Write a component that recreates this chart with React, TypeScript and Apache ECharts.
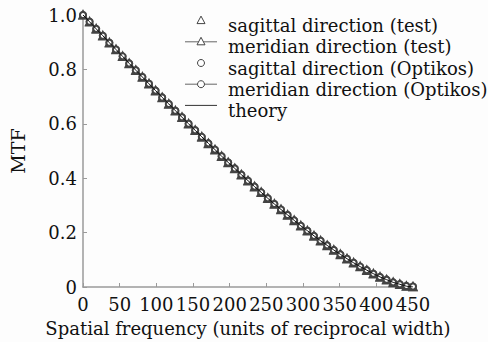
import React, { useEffect, useRef } from "react";
import * as echarts from "echarts";

const FREQ = [0, 9, 18, 27, 36, 45, 54, 63, 72, 81, 90, 99, 108, 117, 126, 135, 144, 153, 162, 171, 180, 189, 198, 207, 216, 225, 234, 243, 252, 261, 270, 279, 288, 297, 306, 315, 324, 333, 342, 351, 360, 369, 378, 387, 396, 405, 414, 423, 432, 441, 450];
const THEORY = [1.0, 0.975, 0.949, 0.924, 0.898, 0.873, 0.848, 0.822, 0.797, 0.772, 0.747, 0.722, 0.697, 0.673, 0.648, 0.624, 0.6, 0.576, 0.552, 0.528, 0.505, 0.481, 0.458, 0.436, 0.413, 0.391, 0.369, 0.348, 0.326, 0.305, 0.285, 0.265, 0.245, 0.225, 0.207, 0.188, 0.17, 0.153, 0.136, 0.12, 0.104, 0.089, 0.075, 0.062, 0.049, 0.037, 0.027, 0.017, 0.01, 0.003, 0.0];
const SAG_TEST = [1.0, 0.976, 0.95, 0.925, 0.899, 0.874, 0.849, 0.823, 0.798, 0.773, 0.748, 0.723, 0.698, 0.674, 0.649, 0.625, 0.601, 0.577, 0.553, 0.529, 0.506, 0.482, 0.459, 0.437, 0.414, 0.392, 0.37, 0.349, 0.327, 0.306, 0.286, 0.266, 0.246, 0.226, 0.208, 0.189, 0.171, 0.154, 0.137, 0.121, 0.105, 0.09, 0.076, 0.063, 0.05, 0.038, 0.028, 0.018, 0.011, 0.004, 0.001];
const MER_TEST = [1.0, 0.974, 0.948, 0.923, 0.897, 0.872, 0.847, 0.821, 0.796, 0.771, 0.746, 0.721, 0.696, 0.672, 0.647, 0.623, 0.599, 0.575, 0.551, 0.527, 0.504, 0.48, 0.457, 0.435, 0.412, 0.39, 0.368, 0.347, 0.325, 0.304, 0.284, 0.264, 0.244, 0.224, 0.206, 0.187, 0.169, 0.152, 0.135, 0.119, 0.103, 0.088, 0.074, 0.061, 0.048, 0.036, 0.026, 0.016, 0.009, 0.003, 0.001];
const SAG_OPT = [1.0, 0.975, 0.949, 0.924, 0.898, 0.873, 0.848, 0.822, 0.797, 0.772, 0.747, 0.722, 0.697, 0.673, 0.648, 0.624, 0.6, 0.576, 0.552, 0.528, 0.505, 0.481, 0.458, 0.436, 0.413, 0.391, 0.369, 0.348, 0.326, 0.305, 0.285, 0.265, 0.245, 0.225, 0.207, 0.188, 0.17, 0.153, 0.136, 0.12, 0.104, 0.089, 0.075, 0.062, 0.049, 0.037, 0.027, 0.017, 0.01, 0.004, 0.002];
const MER_OPT = [1.0, 0.975, 0.949, 0.924, 0.898, 0.873, 0.848, 0.822, 0.797, 0.772, 0.747, 0.722, 0.697, 0.673, 0.648, 0.624, 0.6, 0.576, 0.552, 0.528, 0.505, 0.481, 0.458, 0.436, 0.413, 0.391, 0.369, 0.348, 0.326, 0.305, 0.285, 0.265, 0.245, 0.225, 0.207, 0.188, 0.17, 0.153, 0.136, 0.12, 0.104, 0.089, 0.075, 0.062, 0.049, 0.037, 0.027, 0.017, 0.01, 0.004, 0.002];

const NAMES = [
  "sagittal direction (test)",
  "meridian direction (test)",
  "sagittal direction (Optikos)",
  "meridian direction (Optikos)",
  "theory",
];
// legend icon kinds: marker shape and whether a line is drawn
const LEGEND_MARK = ["triangle", "triangle", "circle", "circle", "none"];
const LEGEND_LINE = [false, true, false, true, true];

const FONT = "'DejaVu Serif', serif";
const TEXT = "#111";
const AXIS = "#9a9a9a";
const MARK = "#444";

const LEG_LEFT = 185;
const LEG_TOP = 10;
const LEG_ROW = 21.2;
const LEG_ICON_W = 32;

const pairs = (ys: number[]) => FREQ.map((x, i) => [x, ys[i]]);

function legendIcons() {
  const els: any[] = [];
  NAMES.forEach((_, i) => {
    const cy = LEG_TOP + LEG_ROW / 2 + i * LEG_ROW;
    const cx = LEG_LEFT + LEG_ICON_W / 2;
    if (LEGEND_LINE[i]) {
      els.push({
        type: "line",
        shape: { x1: LEG_LEFT, y1: cy, x2: LEG_LEFT + LEG_ICON_W, y2: cy },
        style: { stroke: i === 4 ? "#333" : "#666", lineWidth: 1 },
        z: 10,
      });
    }
    if (LEGEND_MARK[i] === "triangle") {
      els.push({
        type: "polygon",
        shape: { points: [[cx, cy - 4.5], [cx - 4, cy + 3], [cx + 4, cy + 3]] },
        style: { fill: "#fff", stroke: MARK, lineWidth: 1 },
        z: 11,
      });
    } else if (LEGEND_MARK[i] === "circle") {
      els.push({
        type: "circle",
        shape: { cx, cy, r: 3.5 },
        style: { fill: "#fff", stroke: MARK, lineWidth: 1 },
        z: 11,
      });
    }
  });
  return els;
}

export default function App() {
  const ref = useRef<HTMLDivElement>(null);
  useEffect(() => {
    if (!ref.current) return;
    const chart = echarts.init(ref.current, null, { renderer: "svg" });
    const markerStyle = { color: MARK, borderColor: MARK, borderWidth: 1 };
    chart.setOption({
      animation: false,
      backgroundColor: "#fdfdfd",
      grid: { left: 73, right: 75, top: 15, bottom: 54, containLabel: false },
      legend: {
        orient: "vertical",
        left: LEG_LEFT,
        top: LEG_TOP,
        itemWidth: LEG_ICON_W,
        itemHeight: 14,
        itemGap: 0,
        itemStyle: { opacity: 0 },
        lineStyle: { opacity: 0 },
        textStyle: { fontFamily: FONT, fontSize: 18, color: TEXT, lineHeight: LEG_ROW },
        data: NAMES,
      },
      graphic: legendIcons(),
      xAxis: {
        type: "value",
        min: 0,
        max: 450,
        interval: 50,
        name: "Spatial frequency (units of reciprocal width)",
        nameLocation: "middle",
        nameGap: 32,
        nameTextStyle: { fontFamily: FONT, fontSize: 18, color: TEXT },
        axisLine: { lineStyle: { color: AXIS, width: 1.5 } },
        axisTick: { inside: true, length: 4, lineStyle: { color: AXIS } },
        axisLabel: { fontFamily: FONT, fontSize: 18, color: TEXT, margin: 8 },
        splitLine: { show: false },
      },
      yAxis: {
        type: "value",
        min: 0,
        max: 1,
        interval: 0.2,
        name: "MTF",
        nameLocation: "middle",
        nameGap: 56,
        nameRotate: 90,
        nameTextStyle: { fontFamily: FONT, fontSize: 19, color: TEXT },
        axisLine: { show: true, lineStyle: { color: AXIS, width: 1.5 } },
        axisTick: { show: true, inside: true, length: 4, lineStyle: { color: AXIS } },
        axisLabel: {
          fontFamily: FONT,
          fontSize: 18,
          color: TEXT,
          margin: 6,
          formatter: (v: number) => (v === 0 ? "0" : v.toFixed(1)),
        },
        splitLine: { show: false },
      },
      series: [
        {
          name: NAMES[4],
          type: "line",
          data: pairs(THEORY),
          symbol: "none",
          lineStyle: { color: "#111", width: 1 },
          itemStyle: { color: "#555" },
          z: 5,
        },
        {
          name: NAMES[0],
          type: "scatter",
          data: pairs(SAG_TEST),
          symbol: "emptyTriangle",
          symbolSize: 7,
          itemStyle: markerStyle,
          z: 3,
        },
        {
          name: NAMES[1],
          type: "line",
          data: pairs(MER_TEST),
          symbol: "emptyTriangle",
          symbolSize: 7,
          showSymbol: true,
          lineStyle: { color: "#555", width: 1 },
          itemStyle: markerStyle,
          z: 3,
        },
        {
          name: NAMES[2],
          type: "scatter",
          data: pairs(SAG_OPT),
          symbol: "emptyCircle",
          symbolSize: 6,
          itemStyle: markerStyle,
          z: 4,
        },
        {
          name: NAMES[3],
          type: "line",
          data: pairs(MER_OPT),
          symbol: "emptyCircle",
          symbolSize: 6,
          showSymbol: true,
          lineStyle: { color: "#555", width: 1 },
          itemStyle: markerStyle,
          z: 4,
        },
      ],
    });
    return () => chart.dispose();
  }, []);
  return <div ref={ref} style={{ width: 488, height: 342, position: "absolute", left: 0, top: 0 }} />;
}
